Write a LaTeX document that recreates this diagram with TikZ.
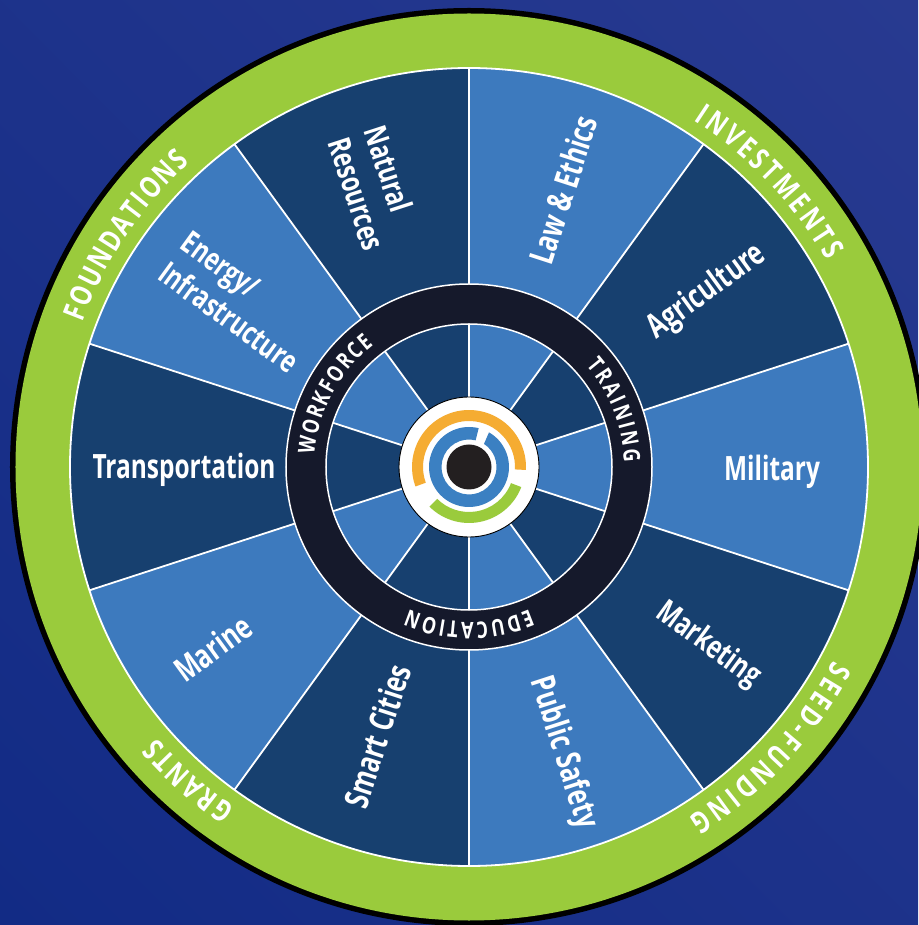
\documentclass[tikz,border=0pt]{standalone}
\usepackage{fontspec}
\usetikzlibrary{decorations.text,shadings}
\newfontfamily\labelfont[FakeStretch=0.73]{Open Sans}
\newfontfamily\ringfont[FakeStretch=0.78]{Open Sans}
\definecolor{bgtr}{HTML}{283A90}
\definecolor{bgbl}{HTML}{122B85}
\definecolor{lightblue}{HTML}{3D7ABE}
\definecolor{darkblue}{HTML}{17406F}
\definecolor{ringgreen}{HTML}{9ACB3C}
\definecolor{ringdark}{HTML}{15192B}
\definecolor{logoorange}{HTML}{F5AC32}
\definecolor{logoblue}{HTML}{3B80C2}
\definecolor{logodark}{HTML}{231F20}
\tikzset{
  lab/.style={text=white,font=\labelfont\bfseries\fontsize{33.5}{38}\selectfont,inner sep=0pt},
  labtwo/.style={text=white,font=\labelfont\bfseries\fontsize{31.5}{38}\selectfont,align=left,inner sep=0pt},
  spoke/.style={draw=white,line width=1.8pt},
  rim/.style={draw=white,line width=1.8pt},
}
\newcommand{\curvedtext}[5]{% radius, start, end, font size, text
  \path[decorate,decoration={text along path,text color=white,
    text={|\ringfont\bfseries\fontsize{#4}{#4}\selectfont|#5},
    text align={left indent=0pt,right indent=0pt,fit to path}}]
    (#2:#1) arc[start angle=#2,end angle=#3,radius=#1 pt];}
\begin{document}
\begin{tikzpicture}[x=1pt,y=1pt]
\useasboundingbox (-469,-458) rectangle (449,467);
\shade[lower left=bgbl,lower right=bgbl!50!bgtr,upper left=bgbl!50!bgtr,upper right=bgtr] (-469,-458) rectangle (449,467);
\fill[black] (0,0) circle[radius=459pt];
\fill[ringgreen] (0,0) circle[radius=453.5pt];
% outer wedges
\foreach \a/\c in {54/lightblue,18/darkblue,-18/lightblue,-54/darkblue,-90/lightblue,-126/darkblue,-162/lightblue,162/darkblue,126/lightblue,90/darkblue}{
  \pgfmathsetmacro{\b}{\a+36}
  \fill[\c] (0,0) -- (\a:399) arc[start angle=\a,end angle=\b,radius=399pt] -- cycle;
}
\foreach \a in {90,54,18,-18,-54,-90,-126,-162,162,126}{
  \draw[spoke] (0,0) -- (\a:399);
}
\draw[rim] (0,0) circle[radius=399pt];
% dark ring
\fill[ringdark] (0,0) circle[radius=183pt];
\draw[rim,line width=1.5pt] (0,0) circle[radius=183pt];
% inner wedges
\foreach \a/\c in {54/lightblue,18/darkblue,-18/lightblue,-54/darkblue,-90/lightblue,-126/darkblue,-162/lightblue,162/darkblue,126/lightblue,90/darkblue}{
  \pgfmathsetmacro{\b}{\a+36}
  \fill[\c] (0,0) -- (\a:143) arc[start angle=\a,end angle=\b,radius=143pt] -- cycle;
}
\foreach \a in {90,54,18,-18,-54,-90,-126,-162,162,126}{
  \draw[spoke] (0,0) -- (\a:143);
}
\draw[rim,line width=1.5pt] (0,0) circle[radius=143pt];
% centre logo
\filldraw[fill=white,draw=black,line width=0.9pt] (0,0) circle[radius=70pt];
\fill[logoorange] (-3:46) arc[start angle=-3,end angle=200,radius=46pt] -- (200:57) arc[start angle=200,end angle=-3,radius=57pt] -- cycle;
\fill[ringgreen] (-21:45) arc[start angle=-21,end angle=-135,radius=45pt] -- (-135:56) arc[start angle=-135,end angle=-21,radius=56pt] -- cycle;
\fill[logoblue] (76:27.5) arc[start angle=76,end angle=417,radius=27.5pt] -- (60:40) arc[start angle=420,end angle=76,radius=40pt] -- cycle;
\fill[logodark] (0,0) circle[radius=22.5pt];
% ring texts
\curvedtext{155}{175.5}{128}{23}{WORKFORCE}
\curvedtext{155}{41}{1.5}{23}{TRAINING}
\curvedtext{155}{-67}{-113}{23}{EDUCATION}
\curvedtext{413}{57}{30}{30}{INVESTMENTS}
\curvedtext{413}{-28}{-58}{30}{SEED-FUNDING}
\curvedtext{413}{-124.5}{-139}{30}{GRANTS}
\curvedtext{413}{159.5}{132.5}{30}{FOUNDATIONS}
% wedge labels
\node[lab,rotate=72] (law) at (94,277) {Law \& Ethics};
\node[lab,rotate=36] (agri) at (238,175) {Agriculture};
\node[lab] (mil) at (303,-5) {Military};
\node[lab,rotate=-36,font=\labelfont\bfseries\fontsize{32}{38}\selectfont] (mark) at (239,-178) {Marketing};
\node[lab,rotate=-72] (safe) at (94,-286) {Public Safety};
\node[lab,rotate=72] (smart) at (-92,-269) {Smart Cities};
\node[lab,rotate=36] (marine) at (-256,-181) {Marine};
\node[lab] (trans) at (-285,-3) {Transportation};
\node[labtwo,rotate=-36] (energy) at (-229,165) {Energy/\\Infrastructure};
\node[labtwo,rotate=-72] (nat) at (-94,279) {Natural\\Resources};
\end{tikzpicture}
\end{document}
